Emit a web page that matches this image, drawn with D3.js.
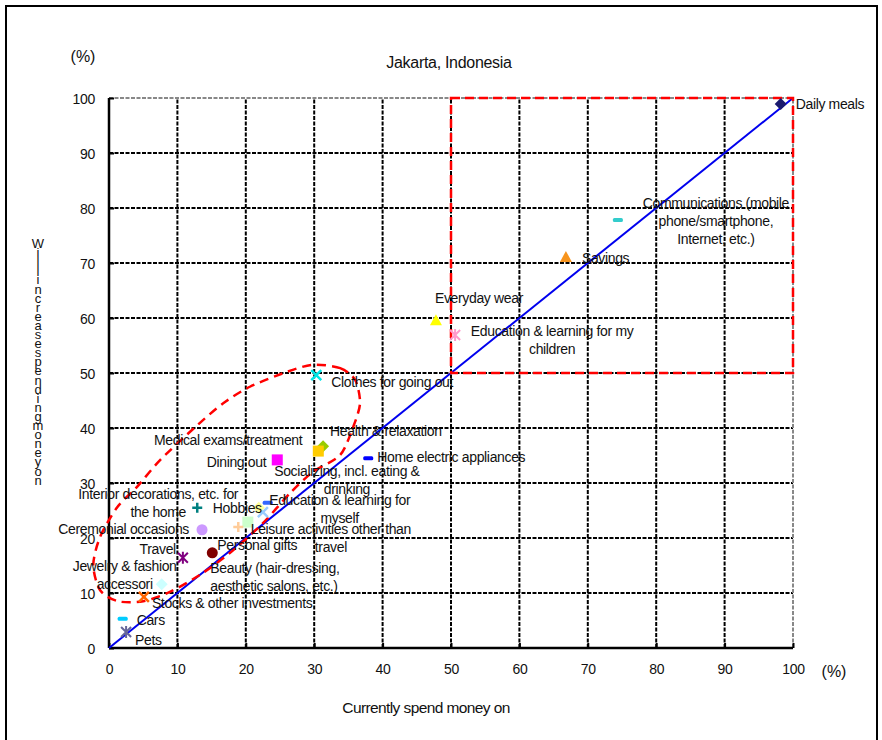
<!DOCTYPE html>
<html>
<head>
<meta charset="utf-8">
<script src="https://cdn.jsdelivr.net/npm/d3@7"></script>
<style>
  html, body { margin: 0; padding: 0; background: #fff; }
  svg text { font-family: "Liberation Sans", Arial, sans-serif; fill: #111; }
</style>
</head>
<body>
<svg id="chart" width="882" height="740"></svg>
<script>
// Spending categories: share currently spending (x) vs. share planning to spend more (y)
const categories = [
  "Daily meals", "Communications (mobile\nphone/smartphone,\nInternet, etc.)", "Savings",
  "Everyday wear", "Education & learning for my\nchildren", "Clothes for going out",
  "Health & relaxation", "Medical exams/treatment", "Dining out", "Home electric appliances",
  "Socializing, incl. eating &\ndrinking", "Education & learning for\nmyself", "Hobbies",
  "Leisure activities other than\ntravel", "Personal gifts", "Interior decorations, etc. for\nthe home",
  "Ceremonial occasions", "Travel", "Beauty (hair-dressing,\naesthetic salons, etc.)",
  "Jewelry & fashion\naccessori", "Stocks & other investments", "Cars", "Pets"
];
const currentlySpend = [98.2, 74.4, 66.8, 47.8, 50.6, 30.3, 31.3, 30.6, 24.6, 37.9, 22.5, 23.2, 21.9, 20.3, 18.9, 12.9, 13.6, 10.8, 15.1, 7.7, 5.1, 2.0, 2.5];
const willSpendMore  = [98.9, 77.8, 71.1, 59.6, 56.9, 49.6, 36.7, 35.8, 34.2, 34.5, 24.7, 26.4, 25.5, 22.9, 22.0, 25.5, 21.5, 16.4, 17.3, 11.6, 9.3, 5.3, 2.9];
const markerShapes = ["diamond", "dash", "triangle", "triangle", "asterisk", "cross", "diamond", "square", "square", "dash",
  "cross", "dash", "diamond", "square", "plus", "plus", "circle", "asterisk", "circle", "diamond", "cross", "dash", "asterisk"];
const markerColors = ["#1a1a6e", "#33cccc", "#f7941d", "#ffff00", "#ff99cc", "#00e5e5", "#99cc00", "#ffcc00", "#ff00ff", "#0000ff",
  "#99ccff", "#3366ff", "#ffff99", "#ccffcc", "#ffcc99", "#008080", "#cc99ff", "#800080", "#800000", "#ccffff", "#ff6600", "#00ccff", "#666699"];
// label placement: pixel offset from the marker and text anchor
const labelOffsets = [
  [15, 0, "start"], [98, -17, "middle"], [16, 1, "start"], [-1, -22, "start"], [97, -4, "middle"],
  [15, 7, "start"], [7, -15, "start"], [-16, -11, "end"], [-11, 2, "end"], [9, -1, "start"],
  [84, -41, "middle"], [72, -3, "middle"], [3, 0, "end"], [83, 7, "middle"], [-21, 18, "start"],
  [-39, -14, "middle"], [-13, -1, "end"], [-7, -9, "end"], [-2, 15, "start"], [-37, -18, "middle"],
  [8, 6, "start"], [14, 1, "start"], [9, 8, "start"]
];
const tickValues = [0, 10, 20, 30, 40, 50, 60, 70, 80, 90, 100];
const title = "Jakarta, Indonesia";
const xTitle = "Currently spend money on";
const yTitle = "Willincreasespendingmoneyon";
// highlighted zones, in data units
const cornerZone = [50, 100, 50, 100];
const clusterOutline = [
  [29.8, 51.5], [33.8, 50.9], [36.0, 48.7], [36.7, 44.5], [35.7, 40.2], [33.8, 35.1], [29.8, 32.0],
  [26.5, 28.2], [22.5, 22.7], [17.7, 17.3], [13.3, 13.3], [8.9, 10.2], [5.0, 8.5], [1.3, 8.5],
  [-1.3, 10.5], [-2.3, 15.1], [-1.3, 20.2], [1.2, 25.6], [4.1, 29.3], [7.5, 34.2], [12.9, 40.5],
  [16.7, 44.5], [20.6, 47.5], [26.0, 50.2]
];

const svg = d3.select("#chart");
const x = d3.scaleLinear().domain([0, 100]).range([109, 793]);
const y = d3.scaleLinear().domain([0, 100]).range([648, 98]);

// outer frame
svg.append("rect").attr("x", 6).attr("y", 6).attr("width", 871).attr("height", 760)
  .attr("fill", "none").attr("stroke", "#000").attr("stroke-width", 2);

// grid
const grid = svg.append("g");
tickValues.filter(v => v > 0).forEach(v => {
  grid.append("line").attr("x1", x(v)).attr("x2", x(v)).attr("y1", y(0)).attr("y2", y(100))
    .attr("stroke", v === 100 ? "#888" : "#000").attr("stroke-width", 2).attr("stroke-dasharray", "4,1.5");
  grid.append("line").attr("x1", x(0)).attr("x2", x(100)).attr("y1", y(v)).attr("y2", y(v))
    .attr("stroke", v === 100 ? "#888" : "#000").attr("stroke-width", 2).attr("stroke-dasharray", "4,1.5");
});

// axes
const fmt = d => d;
const xAxis = svg.append("g").attr("transform", `translate(0,${y(0)})`)
  .call(d3.axisBottom(x).tickValues(tickValues).tickFormat(fmt).tickSizeInner(-5).tickSizeOuter(0).tickPadding(16));
const yAxis = svg.append("g").attr("transform", `translate(${x(0)},0)`)
  .call(d3.axisLeft(y).tickValues(tickValues).tickFormat(fmt).tickSizeInner(-5).tickSizeOuter(0).tickPadding(14));
[xAxis, yAxis].forEach(a => {
  a.select(".domain").attr("stroke", "#000").attr("stroke-width", 2.5);
  a.selectAll(".tick line").attr("stroke", "#000").attr("stroke-width", 2);
  a.selectAll(".tick text").attr("font-size", 14).attr("letter-spacing", -0.3)
    .attr("font-family", "Liberation Sans, Arial, sans-serif").attr("fill", "#111");
});
xAxis.select(".domain").attr("d", `M${x(0)},0H${x(100)}`);
yAxis.select(".domain").attr("d", `M0,${y(0)}V${y(100)}`);
yAxis.selectAll(".tick text").attr("dy", "0.36em");

// diagonal reference line
svg.append("line").attr("x1", x(0)).attr("y1", y(0)).attr("x2", x(100)).attr("y2", y(100))
  .attr("stroke", "#0000ee").attr("stroke-width", 2);

// highlighted zones
svg.append("rect")
  .attr("x", x(cornerZone[0])).attr("y", y(cornerZone[3]))
  .attr("width", x(cornerZone[1]) - x(cornerZone[0])).attr("height", y(cornerZone[2]) - y(cornerZone[3]))
  .attr("fill", "none").attr("stroke", "#ff0000").attr("stroke-width", 2.5).attr("stroke-dasharray", "9,5");
svg.append("path")
  .attr("d", d3.line().x(d => x(d[0])).y(d => y(d[1])).curve(d3.curveCardinalClosed.tension(0.2))(clusterOutline))
  .attr("fill", "none").attr("stroke", "#ff0000").attr("stroke-width", 2.5).attr("stroke-dasharray", "9,6");

// markers
function drawMarker(g, shape, color) {
  switch (shape) {
    case "diamond":
      g.append("path").attr("d", "M0,-6L6,0L0,6L-6,0Z").attr("fill", color); break;
    case "square":
      g.append("rect").attr("x", -5.5).attr("y", -5.5).attr("width", 11).attr("height", 11).attr("fill", color); break;
    case "triangle":
      g.append("path").attr("d", "M0,-6L6,5L-6,5Z").attr("fill", color); break;
    case "circle":
      g.append("circle").attr("r", 5.5).attr("fill", color); break;
    case "dash":
      g.append("rect").attr("x", -5).attr("y", -2).attr("width", 10).attr("height", 4).attr("rx", 1.5).attr("fill", color); break;
    case "cross":
      g.append("path").attr("d", "M-5,-5L5,5M-5,5L5,-5").attr("stroke", color).attr("stroke-width", 2.5); break;
    case "plus":
      g.append("path").attr("d", "M-5,0H5M0,-5V5").attr("stroke", color).attr("stroke-width", 2.5); break;
    case "asterisk":
      g.append("path").attr("d", "M-5,-5L5,5M-5,5L5,-5M0,-6V6").attr("stroke", color).attr("stroke-width", 2); break;
  }
}
const pts = svg.append("g");
categories.forEach((c, i) => {
  const g = pts.append("g").attr("transform", `translate(${x(currentlySpend[i])},${y(willSpendMore[i])})`);
  drawMarker(g, markerShapes[i], markerColors[i]);
});

// labels
const lbl = svg.append("g");
categories.forEach((c, i) => {
  const [dx, dy, anchor] = labelOffsets[i];
  const t = lbl.append("text")
    .attr("x", x(currentlySpend[i]) + dx).attr("y", y(willSpendMore[i]) + dy)
    .attr("text-anchor", anchor).attr("font-size", 14).attr("letter-spacing", -0.35);
  c.split("\n").forEach((line, k) => {
    t.append("tspan").attr("x", x(currentlySpend[i]) + dx).attr("dy", k === 0 ? "0.35em" : "1.3em").text(line);
  });
});

// titles
svg.append("text").attr("x", 449).attr("y", 68).attr("text-anchor", "middle").attr("font-size", 16)
  .attr("letter-spacing", -0.3).text(title);
svg.append("text").attr("x", 426).attr("y", 713).attr("text-anchor", "middle")
  .attr("font-size", 15.5).attr("letter-spacing", -0.6).text(xTitle);
svg.append("text").attr("x", 83).attr("y", 62).attr("text-anchor", "middle").attr("font-size", 16)
  .attr("font-family", "Liberation Serif, Times New Roman, serif").text("(%)");
svg.append("text").attr("x", 834).attr("y", 677).attr("text-anchor", "middle").attr("font-size", 16)
  .attr("font-family", "Liberation Serif, Times New Roman, serif").text("(%)");
// vertical axis title, letters stacked upright
svg.append("text").attr("x", 38).attr("y", 236).attr("font-size", 13)
  .style("writing-mode", "vertical-rl").style("text-orientation", "upright")
  .attr("letter-spacing", -5.9).text(yTitle);
</script>
</body>
</html>
